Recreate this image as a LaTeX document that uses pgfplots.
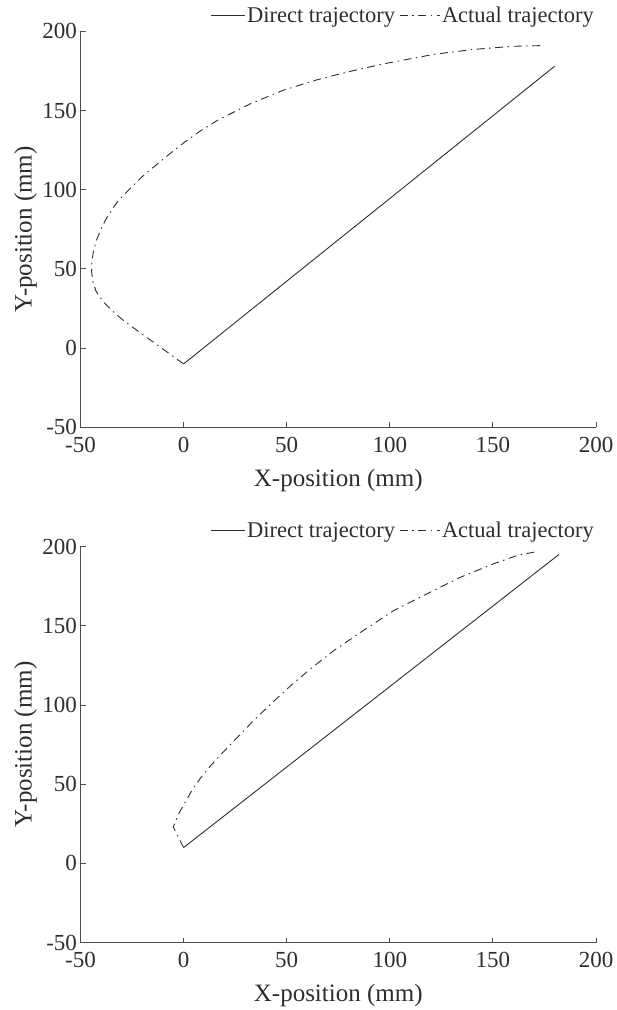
\documentclass[border=0pt]{standalone}
\usepackage{fontspec}
\setmainfont{Liberation Serif}
\usepackage{pgfplots}
\pgfplotsset{compat=1.18}

\definecolor{axisgray}{HTML}{4D4D4D}
\definecolor{inkgray}{HTML}{2E2E2E}

\pgfplotsset{
  traj/.style={
    scale only axis, width=515.5pt, height=396pt,
    xmin=-50, xmax=200, ymin=-50, ymax=200,
    xtick={-50,0,50,100,150,200}, ytick={-50,0,50,100,150,200},
    axis x line*=bottom, axis y line*=left,
    axis line style={-, draw=axisgray, line width=0.9pt},
    tick align=inside, major tick length=5pt,
    tick style={draw=axisgray, line width=0.9pt},
    /pgf/number format/assume math mode=true,
    ticklabel style={font=\fontsize{23}{27}\selectfont, text=inkgray},
    label style={font=\fontsize{25}{29}\selectfont, text=inkgray},
    xlabel={X-position (mm)}, ylabel={Y-position (mm)},
    xlabel style={at={(axis description cs:0.5,-0.150)}, anchor=base},
    ylabel style={at={(axis description cs:-0.0947,0.5)}, anchor=base},
    xticklabel style={yshift=-6.5pt},
    legend columns=2,
    legend style={draw=none, fill=none, at={(axis description cs:1,1)},
      anchor=south east, yshift=5pt, inner sep=0pt,
      font=\fontsize{22.5}{26}\selectfont, text=inkgray,
      nodes={inner sep=2pt},
      /tikz/every even column/.append style={column sep=2pt}},
    legend image code/.code={\draw[#1] (0pt,0pt) -- (34pt,0pt);},
  },
  direct/.style={draw=inkgray, line width=0.9pt, solid},
  actual/.style={draw=inkgray, line width=0.9pt,
    dash pattern=on 8pt off 4.5pt on 1.5pt off 4.5pt,
    legend image code/.code={\draw[##1] (0pt,0pt) -- (40pt,0pt);}},
}

\begin{document}
\begin{tikzpicture}
\useasboundingbox (0,0) rectangle (617pt,1010pt);

% first run
\begin{axis}[traj, at={(80.5pt,582.7pt)}, anchor=south west]
\addplot[direct] coordinates {(0,-10) (180,178)};
\addlegendentry{Direct trajectory}
\addplot[actual] coordinates {
  (0,-10) (-8,-2.5) (-16,5) (-24,12.5) (-30,18.3) (-35,24) (-39.5,30)
  (-42.5,36) (-44,42) (-44.6,48) (-44.5,54) (-43.8,60.5) (-42.3,68)
  (-39.8,76) (-36.4,84.3) (-32,92.5) (-26.5,100) (-20.3,108)
  (-12.5,116.5) (-5.8,123.6) (0.5,130) (8,137) (16.7,144) (32.8,154.5)
  (48.8,163) (65,169.5) (81.1,174.8) (97.2,179.5) (121.2,185.4)
  (140.2,188.5) (159.2,190.5) (174.4,191)
};
\addlegendentry{Actual trajectory}
\end{axis}

% second run
\begin{axis}[traj, at={(80.5pt,67.4pt)}, anchor=south west]
\addplot[direct] coordinates {(0,10) (182,195)};
\addlegendentry{Direct trajectory}
\addplot[actual] coordinates {
  (0,10) (-5,23) (-2.5,31) (0.5,38) (4,46) (8,53.5) (13,61.5) (19,70)
  (26,79.5) (34,90.2) (43,101.5) (52,112.3) (62,123.3) (73,134.5)
  (86,146) (102,159.7) (118,170.2) (134,180.5) (150,189) (162,194.5)
  (170,196.5)
};
\addlegendentry{Actual trajectory}
\end{axis}
\end{tikzpicture}
\end{document}
